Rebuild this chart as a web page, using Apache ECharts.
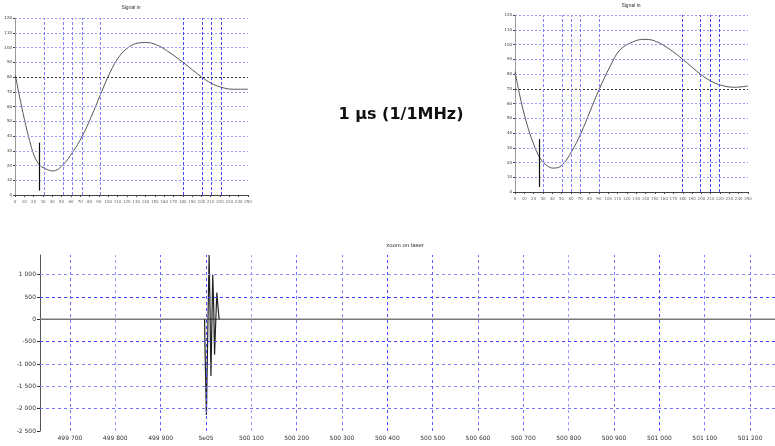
<!DOCTYPE html>
<html>
<head>
<meta charset="utf-8" />
<title></title>
<script src="https://cdn.jsdelivr.net/npm/echarts@6/dist/echarts.min.js"></script>
</head>
<body style="margin:0">
<div id="main" style="width:775px;height:446px;"></div>
<script>
// ---- top panels (same axes, two snapshots)
var topXTicks = [0,10,20,30,40,50,60,70,80,90,100,110,120,130,140,150,160,170,180,190,200,210,220,230,240,250];
var topYTicks = [0,10,20,30,40,50,60,70,80,90,100,110,120];
var leftCurve = [[0.5,81],[4.8,67],[10.2,51],[15.6,37],[21,26],[26.3,20.4],[31.7,18.1],[40.6,16.3],[51.4,20.4],[62.2,29.4],[71.9,39.6],[81.9,53.2],[91.6,67.9],[101.6,82.6],[112.4,94.4],[123.1,100.7],[132,103],[141,103.4],[151.8,101.8],[162.6,98],[180.5,89.8],[200.5,79.9],[210.5,75.8],[221,73.1],[234.2,71.7],[250,71.7]];
var rightCurve = [[0,81.6],[5.4,64.7],[12.5,46.7],[19.6,33.2],[26.8,23],[34,18],[41,16.2],[50,18],[60.8,27.5],[70.8,39.9],[80.4,54.5],[90.4,69.7],[101.9,85],[112.6,96.3],[126.9,101.9],[139.5,103.5],[152,101.9],[167,96.3],[179.9,90],[200,79.4],[210,75.3],[220,72.6],[235.4,71],[250,71.9]];
var leftMarksX = [31.5,51.4,61.5,71.8,91.6,180.5,200.5,210.5,221];
var rightMarksX = [30.4,50.7,60.8,70.5,90.4,179.2,199.3,209.2,219.2];
var marksStrong = [false,false,false,false,false,true,true,true,true];
var leftLevel = 80, rightLevel = 70;   // black dashed level line
var leftBar = [26.3, 3, 35.5], rightBar = [25.8, 3.4, 35.9];

// ---- bottom panel
var botXTicks = [499700,499800,499900,500000,500100,500200,500300,500400,500500,500600,500700,500800,500900,501000,501100,501200];
var botXAlpha = [0.55,0.4,0.6,0.7,0.4,0.55,0.5,0.72,0.65,0.55,0.55,0.4,0.55,0.72,0.5,0.55];
var botYTicks = [-2500,-2000,-1500,-1000,-500,0,500,1000];
var botYGrid = [-2000,-1500,-1000,-500,500,1000];
var botYAlpha = [0.55,0.45,0.5,0.75,0.75,0.45];
var baseT = [499634, 501255];
var baseV = [0, 0];
var burstT = [499997,499998,500001,500004,500007,500009,500011,500013,500015,500017,500019,500021,500024,500026,500029];
var burstV = [0,-700,-2140,-300,1440,200,-1270,-100,1000,300,-790,-200,600,350,0];

function fmt(v) {
  if (v === 500000) return '5e05';
  var s = Math.abs(v).toString().replace(/\B(?=(\d{3})+(?!\d))/g, ' ');
  return (v < 0 ? '-' : '') + s;
}
// blue faded toward white (opaque)
function blue(a) {
  var c = Math.round(255 * (1 - a));
  return 'rgb(' + c + ',' + c + ',255)';
}

var myChart = echarts.init(document.getElementById('main'));

function topAxes(gi) {
  return {
    x: {
      type: 'value', gridIndex: gi, min: 0, max: 250,
      axisLine: { lineStyle: { color: '#444', width: 1 } },
      axisTick: { customValues: topXTicks, length: 2, lineStyle: { color: '#444' } },
      axisLabel: { customValues: topXTicks, fontSize: 4, color: '#666', margin: 5 },
      splitLine: { show: false }
    },
    y: {
      type: 'value', gridIndex: gi, min: 0, max: 120,
      axisLine: { show: true, lineStyle: { color: '#999', width: 1 } },
      axisTick: { customValues: topYTicks, length: 2, lineStyle: { color: '#444' } },
      axisLabel: { customValues: topYTicks, fontSize: 4, color: '#333', margin: 3 },
      splitLine: { show: false }
    }
  };
}
var tl = topAxes(0), tr = topAxes(1);

var series = [];
// one helper series per grid line so each keeps its own style
function gridLine(gi, item, color, dash, width) {
  series.push({
    type: 'line', xAxisIndex: gi, yAxisIndex: gi, data: [], silent: true, z: 1,
    markLine: {
      silent: true, symbol: 'none', label: { show: false }, animation: false,
      lineStyle: { color: color, type: dash, width: width || 1 },
      emphasis: { disabled: true },
      data: [item]
    }
  });
}

function topGrid(gi, marksX, level, bar) {
  topYTicks.forEach(function (v) {
    if (v === 0) return;
    gridLine(gi, { yAxis: v }, v === level ? '#333' : blue(0.4), [2, 2]);
  });
  marksX.forEach(function (v, i) {
    gridLine(gi, { xAxis: v }, marksStrong[i] ? blue(0.72) : blue(0.5), [3, 2]);
  });
  gridLine(gi, [{ coord: [bar[0], bar[1]] }, { coord: [bar[0], bar[2]] }], '#111', 'solid', 1.2);
}
topGrid(0, leftMarksX, leftLevel, leftBar);
topGrid(1, rightMarksX, rightLevel, rightBar);

botYGrid.forEach(function (v, i) {
  gridLine(2, { yAxis: v }, blue(botYAlpha[i]), [3, 3]);
});
botXTicks.forEach(function (v, i) {
  gridLine(2, { xAxis: v }, blue(botXAlpha[i]), [3, 3]);
});

series.push(
  {
    type: 'line', xAxisIndex: 0, yAxisIndex: 0, data: leftCurve, smooth: 0.4, symbol: 'none',
    lineStyle: { color: '#444', width: 0.9 }, z: 3
  },
  {
    type: 'line', xAxisIndex: 1, yAxisIndex: 1, data: rightCurve, smooth: 0.4, symbol: 'none',
    lineStyle: { color: '#444', width: 0.9 }, z: 3
  },
  {
    type: 'line', xAxisIndex: 2, yAxisIndex: 2, symbol: 'none',
    data: baseT.map(function (t, i) { return [t, baseV[i]]; }),
    lineStyle: { color: '#777', width: 1.5 }, z: 2
  },
  {
    type: 'line', xAxisIndex: 2, yAxisIndex: 2, symbol: 'none',
    data: burstT.map(function (t, i) { return [t, burstV[i]]; }),
    lineStyle: { color: '#222', width: 1.2 }, z: 3
  }
);

option = {
  animation: false,
  textStyle: { fontFamily: 'DejaVu Sans' },
  grid: [
    { left: 15, top: 18, width: 233, height: 177 },
    { left: 515, top: 15, width: 233, height: 177 },
    { left: 40, top: 255, width: 735, height: 176 }
  ],
  xAxis: [tl.x, tr.x, {
    type: 'value', gridIndex: 2, min: 499634, max: 501255,
    axisLine: { lineStyle: { color: '#555', width: 1 } },
    axisTick: { customValues: botXTicks, length: 3, lineStyle: { color: '#333' } },
    axisLabel: { customValues: botXTicks, fontSize: 6, color: '#333', margin: 4, formatter: fmt },
    splitLine: { show: false }
  }],
  yAxis: [tl.y, tr.y, {
    type: 'value', gridIndex: 2, min: -2500, max: 1440,
    axisLine: { show: true, lineStyle: { color: '#555', width: 1 } },
    axisTick: { customValues: botYTicks, length: 3, lineStyle: { color: '#333' } },
    axisLabel: { customValues: botYTicks, fontSize: 6, color: '#333', margin: 4, formatter: fmt },
    splitLine: { show: false }
  }],
  graphic: [
    { type: 'text', x: 131, y: 5, style: { text: 'Signal in', fontSize: 5, fill: '#333', textAlign: 'center' } },
    { type: 'text', x: 631, y: 3, style: { text: 'Signal in', fontSize: 5, fill: '#333', textAlign: 'center' } },
    { type: 'text', x: 401, y: 107, style: { text: '1 µs (1/1MHz)', fontSize: 16, fontWeight: 'bold', fill: '#111', textAlign: 'center', fontFamily: 'DejaVu Sans' } },
    { type: 'text', x: 405, y: 242, style: { text: 'zoom on laser', fontSize: 6, fill: '#333', textAlign: 'center' } }
  ],
  series: series
};
myChart.setOption(option);
</script>
</body>
</html>
